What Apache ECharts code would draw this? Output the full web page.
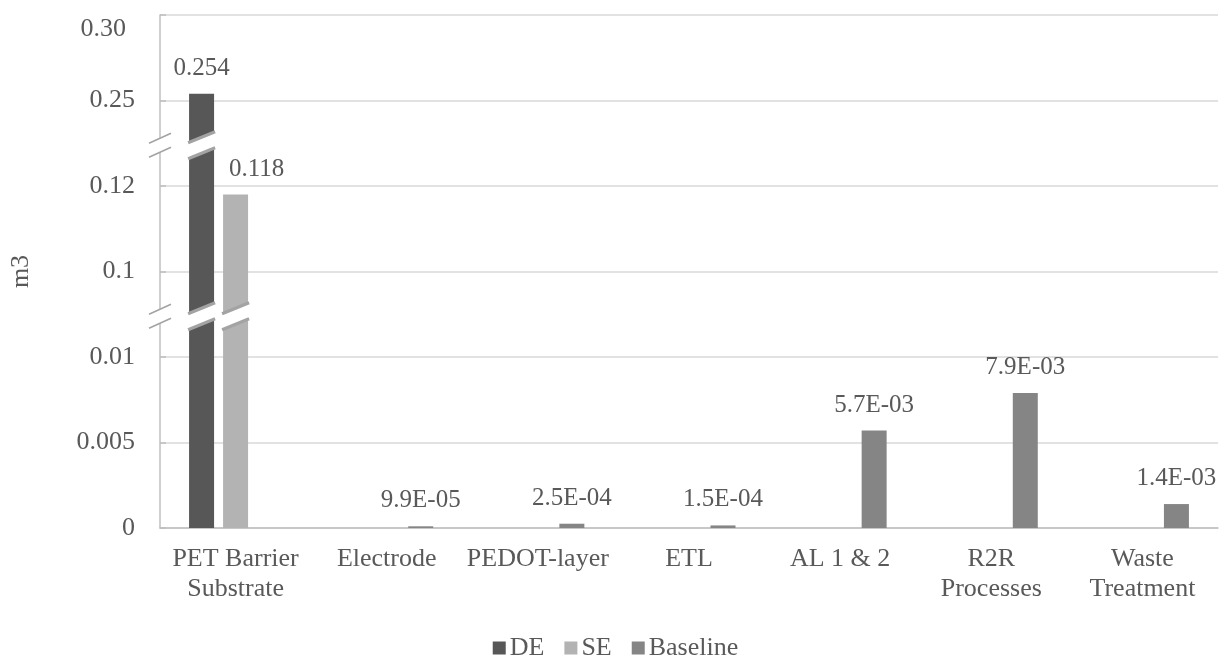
<!DOCTYPE html>
<html>
<head>
<meta charset="utf-8">
<title>Water use by stage (m3)</title>
<script src="https://cdn.jsdelivr.net/npm/echarts@6/dist/echarts.min.js"></script>
<style>
  html, body { margin: 0; padding: 0; background: #ffffff; }
  #chart { width: 1231px; height: 656px; }
</style>
</head>
<body>
<div id="chart"></div>
<script>
// Life-cycle stages on the x axis
const categories = ['PET Barrier\nSubstrate', 'Electrode', 'PEDOT-layer', 'ETL', 'AL 1 & 2', 'R2R\nProcesses', 'Waste\nTreatment'];

// Water volume per stage, m3
const seriesDE = [0.254, null, null, null, null, null, null];
const seriesSE = [0.118, null, null, null, null, null, null];
const seriesBaseline = [null, 9.9e-5, 2.5e-4, 1.5e-4, 5.7e-3, 7.9e-3, 1.4e-3];

// Broken value axis: tick values placed at equal spacing
const tickValues = [0, 0.005, 0.01, 0.1, 0.12, 0.25, 0.30];
const tickLabels = ['0', '0.005', '0.01', '0.1', '0.12', '0.25', '0.30'];

// Axis positions (in tick units) where the scale is cut
const breakPositions = [2.5, 4.5];

const FONT = "'Liberation Serif', 'Times New Roman', serif";
const TEXT = '#595959';
const BAR_W = 25;
const BAR_GAP = 0.36;
const COLORS = ['#575757', '#b3b3b3', '#858585'];

// Piecewise-linear map of a value onto the equally spaced tick scale
function toAxis(v) {
  if (v == null) return null;
  for (let i = 0; i < tickValues.length - 1; i++) {
    const a = tickValues[i], b = tickValues[i + 1];
    if (v <= b || i === tickValues.length - 2) return i + (v - a) / (b - a);
  }
}

function sci(v) {
  const parts = v.toExponential(1).split('e');
  const n = parseInt(parts[1], 10);
  return parts[0] + 'E' + (n < 0 ? '-' : '+') + String(Math.abs(n)).padStart(2, '0');
}

const groups = [
  { name: 'DE', values: seriesDE, fmt: v => String(v), offset: [0, 0] },
  { name: 'SE', values: seriesSE, fmt: v => String(v), offset: [21, 0] },
  { name: 'Baseline', values: seriesBaseline, fmt: sci, offset: [0, 0] }
];

const barSeries = groups.map((g, si) => ({
  name: g.name,
  type: 'bar',
  barWidth: BAR_W,
  barGap: (BAR_GAP * 100) + '%',
  itemStyle: { color: COLORS[si] },
  data: g.values.map(toAxis),
  label: {
    show: true,
    position: 'top',
    distance: 13,
    offset: g.offset,
    color: TEXT,
    fontFamily: FONT,
    fontSize: 25,
    formatter: p => (g.values[p.dataIndex] == null ? '' : g.fmt(g.values[p.dataIndex]))
  },
  z: 2
}));

// Bars that run through a cut get a slanted white gap
const barBreakData = [];
groups.forEach((g, si) => {
  g.values.forEach((v, ci) => {
    if (v == null) return;
    breakPositions.forEach(bp => {
      if (toAxis(v) > bp + 0.15) barBreakData.push([ci, si, bp]);
    });
  });
});

function renderBarBreak(params, api) {
  const ci = api.value(0), si = api.value(1), bp = api.value(2);
  const c = api.coord([ci, bp]);
  const cx = c[0] + (si - 1) * BAR_W * (1 + BAR_GAP);
  const x0 = cx - BAR_W / 2 - 1, x1 = cx + BAR_W / 2 + 1;
  const cy = c[1] + 2;
  const h = 16, s = 11;
  const topL = [x0, cy - h / 2 + s / 2], topR = [x1, cy - h / 2 - s / 2];
  const botL = [x0, cy + h / 2 + s / 2], botR = [x1, cy + h / 2 - s / 2];
  return {
    type: 'group',
    children: [
      { type: 'polygon', shape: { points: [topL, topR, botR, botL] }, style: { fill: '#ffffff' } },
      { type: 'line', shape: { x1: topL[0], y1: topL[1], x2: topR[0], y2: topR[1] }, style: { stroke: '#a3a3a3', lineWidth: 3 } },
      { type: 'line', shape: { x1: botL[0], y1: botL[1], x2: botR[0], y2: botR[1] }, style: { stroke: '#a3a3a3', lineWidth: 3 } }
    ]
  };
}

function renderAxisBreak(params, api) {
  const bp = api.value(0);
  const c = api.coord([0, bp]);
  const ax = c[0] - api.size([1, 0])[0] / 2;
  const cy = c[1] + 2;
  const w = 11, s = 5, h = 7;
  const aL = [ax - w, cy - h + s], aR = [ax + w, cy - h - s];
  const bL = [ax - w, cy + h + s], bR = [ax + w, cy + h - s];
  return {
    type: 'group',
    children: [
      { type: 'polygon', shape: { points: [[ax - 3, cy - h + 1], [ax + 3, cy - h - 2], [ax + 3, cy + h - 1], [ax - 3, cy + h + 2]] }, style: { fill: '#ffffff' } },
      { type: 'line', shape: { x1: aL[0], y1: aL[1], x2: aR[0], y2: aR[1] }, style: { stroke: '#a3a3a3', lineWidth: 1.5 } },
      { type: 'line', shape: { x1: bL[0], y1: bL[1], x2: bR[0], y2: bR[1] }, style: { stroke: '#a3a3a3', lineWidth: 1.5 } }
    ]
  };
}

const chart = echarts.init(document.getElementById('chart'));
chart.setOption({
  backgroundColor: '#ffffff',
  animation: false,
  textStyle: { fontFamily: FONT, color: TEXT },
  grid: { left: 159, right: 13, top: 15, bottom: 128 },
  legend: {
    data: groups.map(g => g.name),
    left: 'center',
    top: 630,
    icon: 'rect',
    itemWidth: 13,
    itemHeight: 13,
    itemGap: 20,
    textStyle: { fontFamily: FONT, fontSize: 26, color: TEXT, padding: [0, 0, 0, -1] }
  },
  xAxis: {
    type: 'category',
    data: categories,
    axisLine: { lineStyle: { color: '#bfbfbf', width: 1.5 } },
    axisTick: { show: false },
    axisLabel: { interval: 0, margin: 16, color: TEXT, fontFamily: FONT, fontSize: 26, lineHeight: 30 }
  },
  yAxis: {
    type: 'value',
    min: 0,
    max: tickValues.length - 1,
    interval: 1,
    name: 'm3',
    nameLocation: 'middle',
    nameGap: 126,
    nameTextStyle: { fontFamily: FONT, fontSize: 26, color: TEXT },
    axisLine: { show: true, lineStyle: { color: '#bfbfbf', width: 1.5 } },
    axisTick: { show: true, inside: true, length: 6, lineStyle: { color: '#bfbfbf', width: 1.5 } },
    splitLine: { lineStyle: { color: '#d9d9d9', width: 1.5 } },
    axisLabel: {
      margin: 25,
      color: TEXT,
      fontFamily: FONT,
      fontSize: 26,
      formatter: v => {
        const i = Math.round(v);
        return i === tickLabels.length - 1 ? '{top|' + tickLabels[i] + '}' : tickLabels[i];
      },
      rich: {
        top: { fontFamily: FONT, fontSize: 26, color: TEXT, padding: [28, 9, 0, 0] }
      }
    }
  },
  series: barSeries.concat([
    {
      type: 'custom',
      name: 'bar-breaks',
      renderItem: renderBarBreak,
      data: barBreakData,
      encode: { x: 0, y: 2 },
      silent: true,
      z: 5
    },
    {
      type: 'custom',
      name: 'axis-breaks',
      renderItem: renderAxisBreak,
      data: breakPositions.map(bp => [bp]),
      encode: { y: 0 },
      silent: true,
      clip: false,
      z: 5
    }
  ])
});
</script>
</body>
</html>
